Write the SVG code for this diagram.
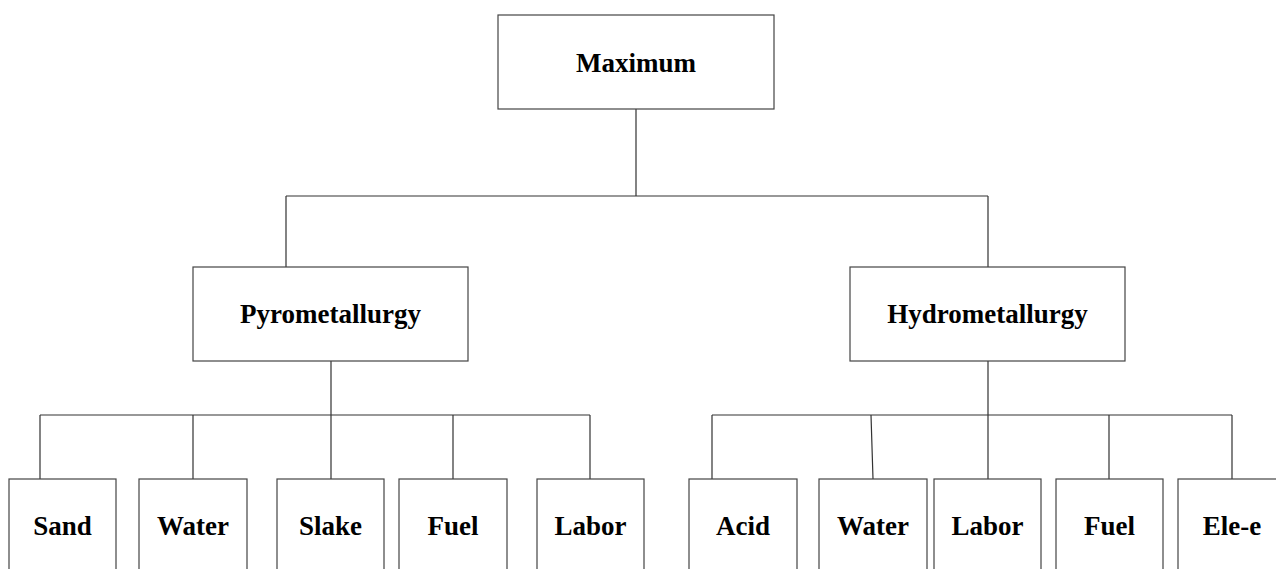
<svg xmlns="http://www.w3.org/2000/svg" width="1276" height="569" viewBox="0 0 1276 569">
<style>
.box{fill:#fff;stroke:#444;stroke-width:1.2}
.lbl{font-family:"Liberation Serif","Times New Roman",serif;font-weight:bold;font-size:27px;fill:#000;text-anchor:middle}
.con{stroke:#333;stroke-width:1.2;fill:none}
</style>
<rect width="1276" height="569" fill="#fff"/>
<g id="connectors">
<path class="con" d="M636,109V196M286,196H988M286,196V267M988,196V267"/>
<path class="con" d="M331,361V415M40,415H590M40,415V479M193,415V479M331,415V479M453,415V479M590,415V479"/>
<path class="con" d="M988,361V415M712,415H1232M712,415V479M871,415L873,479M988,415V479M1109,415V479M1232,415V479"/>
</g>
<g id="maximum"><rect class="box" x="498" y="15" width="276" height="94"/><text class="lbl" x="636" y="72">Maximum</text></g>
<g id="pyro"><rect class="box" x="193" y="267" width="275" height="94"/><text class="lbl" x="330.5" y="323">Pyrometallurgy</text></g>
<g id="hydro"><rect class="box" x="850" y="267" width="275" height="94"/><text class="lbl" x="987.5" y="323">Hydrometallurgy</text></g>
<g id="sand"><rect class="box" x="9" y="479" width="107" height="94"/><text class="lbl" x="62.5" y="535">Sand</text></g>
<g id="water1"><rect class="box" x="139" y="479" width="108" height="94"/><text class="lbl" x="193" y="535">Water</text></g>
<g id="slake"><rect class="box" x="277" y="479" width="107" height="94"/><text class="lbl" x="330.5" y="535">Slake</text></g>
<g id="fuel1"><rect class="box" x="399" y="479" width="108" height="94"/><text class="lbl" x="453" y="535">Fuel</text></g>
<g id="labor1"><rect class="box" x="537" y="479" width="107" height="94"/><text class="lbl" x="590.5" y="535">Labor</text></g>
<g id="acid"><rect class="box" x="689" y="479" width="108" height="94"/><text class="lbl" x="743" y="535">Acid</text></g>
<g id="water2"><rect class="box" x="819" y="479" width="108" height="94"/><text class="lbl" x="873" y="535">Water</text></g>
<g id="labor2"><rect class="box" x="934" y="479" width="107" height="94"/><text class="lbl" x="987.5" y="535">Labor</text></g>
<g id="fuel2"><rect class="box" x="1056" y="479" width="107" height="94"/><text class="lbl" x="1109.5" y="535">Fuel</text></g>
<g id="elee"><rect class="box" x="1178" y="479" width="108" height="94"/><text class="lbl" x="1232" y="535">Ele-e</text></g>
</svg>
